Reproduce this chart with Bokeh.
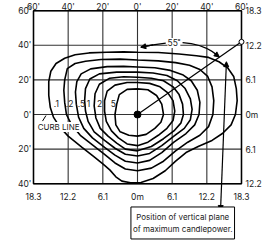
from bokeh.plotting import figure
from bokeh.models import Label, Arrow, NormalHead, Range1d
from bokeh.core.properties import value
from bokeh.embed import file_html
from bokeh.resources import INLINE

# ---- axis ticks / labels ----
x_ticks = [-60, -40, -20, 0, 20, 40, 60]
top_labels = ["60'", "40'", "20'", "0'", "20'", "40'", "60'"]
bottom_labels = ["18.3", "12.2", "6.1", "0m", "6.1", "12.2", "18.3"]
y_ticks = [60, 40, 20, 0, -20, -40]
left_labels = ["60'", "40'", "20'", "0'", "20'", "40'"]
right_labels = ["18.3", "12.2", "6.1", "0m", "6.1", "12.2"]

# ---- isofootcandle contours (feet) ----
c1_x = [0, 12, 24, 34, 41, 47, 52, 55.5, 57, 57.5, 56.5, 54, 49, 43, 35, 28, 22, 16, 9, 2, -4, -9, -12.5, -16, -20, -25, -32, -40, -45, -48.5, -50.3, -51.2, -51.2, -50, -47, -42, -36, -28, -18, -8, 0]
c1_y = [36, 35.8, 35, 34, 33, 30.5, 27, 22, 15, 8, 0, -6, -11, -15, -18.5, -22, -27, -32.5, -37, -39.3, -39.5, -38.5, -36, -32, -28.5, -24.5, -19, -12.5, -7, -1.5, 4, 11, 19, 25, 29.5, 32.5, 34.5, 35.6, 36, 36.2, 36]
c2_x = [0, 12, 22, 30, 36, 40.5, 43, 44, 43.5, 41, 36, 29, 22, 15, 8, 0, -7, -13, -19, -26, -33, -38, -41, -42, -42.5, -42, -40.5, -36, -30, -21, -10, 0]
c2_y = [31.5, 31, 30, 28.5, 26, 22, 16, 8, 0, -7, -12, -16, -21, -27, -31, -32.5, -31.5, -28, -23, -17.5, -12, -6, 0, 7, 14, 20, 26.5, 29.5, 30.8, 31.8, 32, 31.5]
c3_x = [0, 10, 19, 26, 31, 34.5, 36, 35.5, 33, 28, 21, 14, 7, 0, -7, -13, -19, -26, -31, -34, -35.3, -35.8, -35, -32.5, -27, -17.5, -8, 0]
c3_y = [27.5, 27, 25.5, 23, 19.5, 14, 7, 0, -6, -11, -16, -22, -26.5, -28, -27, -23.5, -19, -13.5, -8, -1.5, 6, 13, 19, 23.5, 26.4, 27.7, 27.8, 27.5]
c4_x = [0, 9, 17, 23, 27.5, 30.5, 31.5, 30.5, 27, 21, 14, 7, 0, -7, -13, -19, -25, -28.5, -30, -30.5, -30, -27.5, -22, -12, 0]
c4_y = [24.5, 24, 22.5, 19.5, 15, 9, 3, -3, -8, -12.5, -18, -22.5, -24, -23, -19.5, -15, -10, -4, 2, 8, 15, 20.5, 23.5, 24.5, 24.5]
c5_x = [0, 8, 15, 20.5, 24, 26, 26.5, 25, 21, 15, 8, 0, -7, -12, -17, -21.5, -24, -25, -24.5, -22, -16, -8, 0]
c5_y = [21.5, 21, 19.5, 16, 11.5, 6, 0, -5, -9.5, -14, -18.5, -21, -20, -16.5, -12.5, -8, -2, 5, 12, 17.5, 21, 21.8, 21.5]
c6_x = [0, 7, 13, 17.5, 20.5, 21.5, 20.5, 17, 12, 6, 0, -6, -11, -15, -18, -19, -19, -17.5, -13, -6, 0]
c6_y = [18.5, 18, 16, 12.5, 8, 2, -3.5, -8, -12, -16, -18, -17, -13.5, -9.5, -4, 2, 8, 13.5, 17, 18.5, 18.5]
c7_x = [0, 6, 11, 14, 15, 13.5, 10, 5, 0, -5, -10, -12.5, -13, -12, -10.5, -6, 0]
c7_y = [14.8, 14.3, 11, 6, 0, -4.5, -8, -11.5, -12.5, -12, -10, -6, 0, 6, 11.5, 14.5, 14.8]

# contour level labels (footcandles)
level_labels = [".1", ".2", ".5", "1", "2", "5"]
level_label_x = [-46.8, -39.2, -32.3, -28.3, -21.9, -13.9]
level_label_y = [6.4, 6.4, 6.4, 6.4, 6.4, 6.4]

# luminaire and plane of maximum candlepower
lum_x = [0]
lum_y = [0]
plane_x = [0, 60]
plane_y = [0, 42]
angle_label = "55˚"

FONT = "Inter"
TXT = "#222222"

p = figure(width=264, height=240, x_range=Range1d(-79.04, 73.27), y_range=Range1d(-72.83, 65.90),
           x_axis_location=None, y_axis_location=None, toolbar_location=None,
           output_backend="svg", min_border=0)
p.outline_line_color = None
p.xgrid.visible = False
p.ygrid.visible = False
p.background_fill_color = "white"
p.border_fill_color = "white"

# grid + frame
x0, x1 = x_ticks[0], x_ticks[-1]
ytop, ybot = y_ticks[0], y_ticks[-1]
p.segment(x0=x_ticks, y0=ybot, x1=x_ticks, y1=ytop, line_color="#333333", line_width=1.1)
p.segment(x0=x0, y0=y_ticks, x1=x1, y1=y_ticks, line_color="#333333", line_width=1.1)
p.quad(left=x0, right=x1, bottom=ybot, top=ytop, fill_color=None, line_color="black", line_width=1.5)

# contours
p.multi_line(xs=[c1_x, c2_x, c3_x, c4_x, c5_x, c6_x, c7_x],
             ys=[c1_y, c2_y, c3_y, c4_y, c5_y, c6_y, c7_y],
             line_color="black", line_width=1.6)

# plane line
p.line(plane_x, plane_y, line_color="black", line_width=1.2)
p.scatter(plane_x[1:], plane_y[1:], size=5, fill_color="white", line_color="black", line_width=1)
p.scatter(lum_x, lum_y, size=7, color="black")

# 55 deg arc
p.line([16.3, 9, 1.9], [41.3, 40.3, 38.9], line_color="black", line_width=1.2)
p.add_layout(Arrow(end=NormalHead(size=5, fill_color="black", line_color="black"),
                   x_start=9, y_start=40.3, x_end=1.9, y_end=38.9, line_width=1.2))
p.line([26, 31, 35.6, 39.5, 43, 46.5], [41.6, 41, 39.9, 38.4, 36.5, 33.9], line_color="black", line_width=1.2)
p.add_layout(Arrow(end=NormalHead(size=5, fill_color="black", line_color="black"),
                   x_start=43, y_start=36.5, x_end=47.2, y_end=33.3, line_width=1.2))
p.add_layout(Label(x=21, y=41.3, text=angle_label, text_align="center", text_baseline="middle",
                   text_font=FONT, text_font_size="8.5px", text_color=TXT,
                   background_fill_color="white"))

# pointer to text box
p.add_layout(Arrow(start=NormalHead(size=5, fill_color="black", line_color="black"),
                   end=NormalHead(size=5, fill_color="black", line_color="black"),
                   x_start=51.3, y_start=30.5, x_end=47.9, y_end=-55.5, line_width=1.2))

# curb line label
p.line([-54.8, -52.8], [-3.8, -0.6], line_color="black", line_width=1)
p.add_layout(Label(x=-45.5, y=-7.2, text="CURB LINE", text_align="center", text_baseline="middle",
                   text_font=FONT, text_font_size="8px", text_color=TXT,
                   background_fill_color="white"))

# level labels
p.text(x=level_label_x, y=level_label_y, text=level_labels, text_align="center",
       text_baseline="middle", text_font=value(FONT), text_font_size="8.5px", text_color=TXT)

# tick labels
common = dict(text_font=value(FONT), text_font_size="8.5px", text_color=TXT)
p.text(x=x_ticks, y=ytop + 2.3, text=top_labels, text_align="center", text_baseline="alphabetic", **common)
p.text(x=x_ticks, y=ybot - 7.4, text=bottom_labels, text_align="center", text_baseline="alphabetic", **common)
p.text(x=x0 - 1.2, y=y_ticks, text=left_labels, text_align="right", text_baseline="middle", **common)
p.text(x=x1 + 2.3, y=y_ticks, text=right_labels, text_align="left", text_baseline="middle", **common)

# text box
p.add_layout(Label(x=26.1, y=-62.7, text="Position of vertical plane\nof maximum candlepower.",
                   text_align="center", text_baseline="middle", text_font=FONT,
                   text_font_size="8px", text_color=TXT, background_fill_color="white",
                   border_line_color="black", border_line_width=1, padding=(2, 5)))

open("out.html", "w").write(file_html(p, INLINE))
